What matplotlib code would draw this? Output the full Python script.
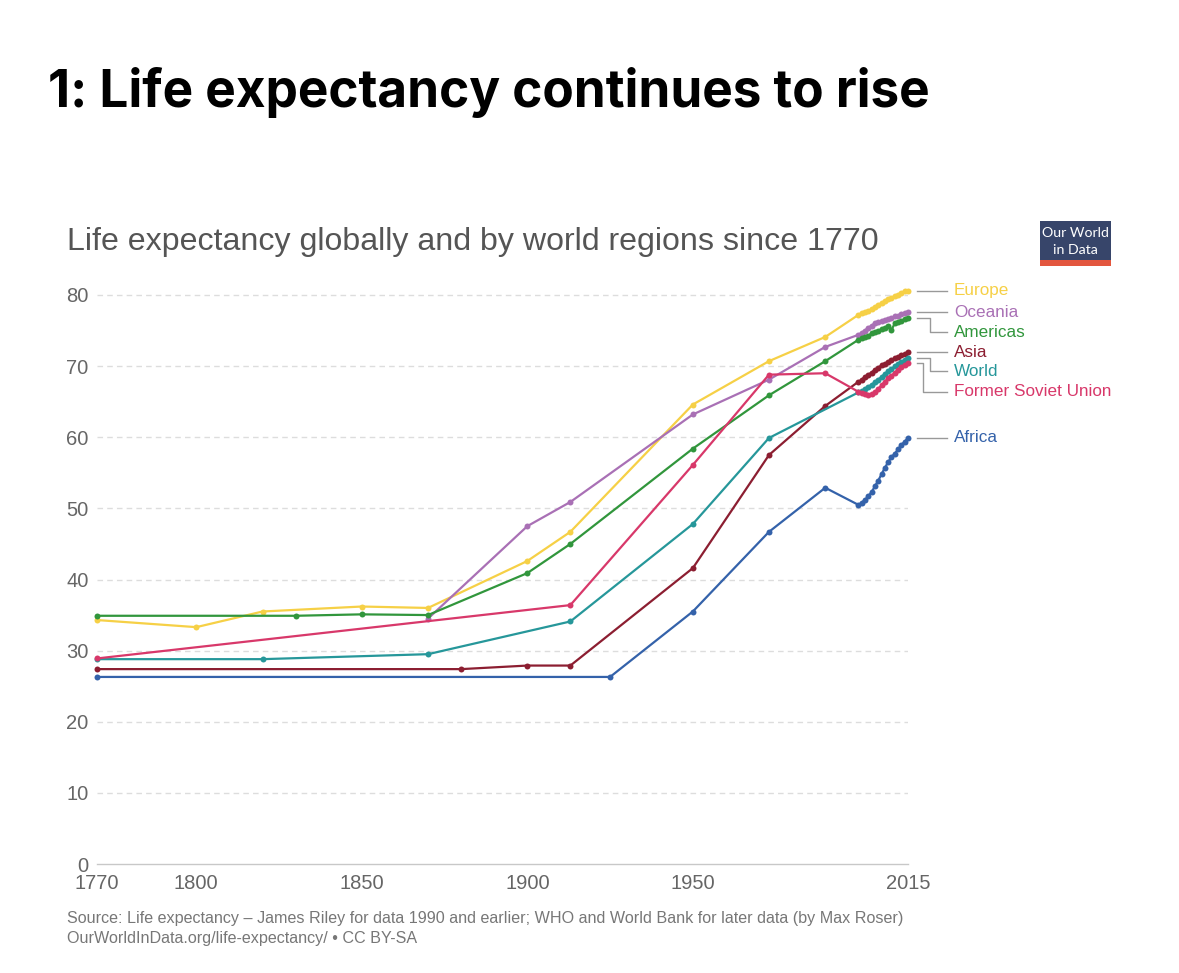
import matplotlib
matplotlib.use('Agg')
import matplotlib.pyplot as plt
from matplotlib.patches import Rectangle

# ---------------- data ----------------
dense_years = list(range(2000, 2016))

europe_years = [1770, 1800, 1820, 1850, 1870, 1900, 1913, 1950, 1973, 1990] + dense_years
europe_vals = [34.3, 33.3, 35.5, 36.2, 36.0, 42.6, 46.7, 64.6, 70.7, 74.1,
               77.2, 77.5, 77.6, 77.7, 78.1, 78.3, 78.6, 78.9, 79.1, 79.4,
               79.6, 79.9, 80.0, 80.3, 80.6, 80.6]

oceania_years = [1870, 1900, 1913, 1950, 1973, 1990] + dense_years
oceania_vals = [34.5, 47.5, 50.9, 63.2, 68.1, 72.7,
                74.4, 74.7, 75.0, 75.4, 75.7, 76.0, 76.2, 76.3, 76.5, 76.6,
                76.8, 77.0, 77.1, 77.3, 77.4, 77.6]

americas_years = [1770, 1830, 1850, 1870, 1900, 1913, 1950, 1973, 1990] + dense_years
americas_vals = [34.9, 34.9, 35.1, 35.0, 40.9, 45.0, 58.4, 65.9, 70.7,
                 73.7, 73.9, 74.1, 74.3, 74.6, 74.8, 75.0, 75.2, 75.4, 75.7,
                 75.1, 76.0, 76.2, 76.4, 76.6, 76.8]

asia_years = [1770, 1880, 1900, 1913, 1950, 1973, 1990] + dense_years
asia_vals = [27.4, 27.4, 27.9, 27.9, 41.6, 57.5, 64.4,
             67.8, 68.1, 68.5, 68.8, 69.1, 69.5, 69.8, 70.1, 70.3, 70.6,
             70.9, 71.1, 71.3, 71.5, 71.7, 72.0]

world_years = [1770, 1820, 1870, 1913, 1950, 1973] + dense_years
world_vals = [28.8, 28.8, 29.5, 34.1, 47.8, 59.9,
              66.3, 66.5, 66.8, 67.1, 67.4, 67.7, 68.1, 68.5, 68.9, 69.3,
              69.6, 70.0, 70.3, 70.6, 70.9, 71.2]

fsu_years = [1770, 1913, 1950, 1973, 1990] + dense_years
fsu_vals = [28.9, 36.4, 56.1, 68.8, 69.0,
            66.4, 66.2, 66.1, 66.0, 66.1, 66.3, 66.8, 67.3, 67.8, 68.3,
            68.6, 69.1, 69.5, 69.9, 70.2, 70.4]

africa_years = [1770, 1925, 1950, 1973, 1990] + dense_years
africa_vals = [26.3, 26.3, 35.5, 46.7, 52.9,
               50.5, 50.8, 51.2, 51.7, 52.3, 53.1, 53.9, 54.8, 55.7, 56.5,
               57.2, 57.7, 58.3, 58.9, 59.4, 59.9]

series_names = ['Europe', 'Oceania', 'Americas', 'Asia', 'World',
                'Former Soviet Union', 'Africa']
series_years = [europe_years, oceania_years, americas_years, asia_years,
                world_years, fsu_years, africa_years]
series_vals = [europe_vals, oceania_vals, americas_vals, asia_vals,
               world_vals, fsu_vals, africa_vals]

x_ticks = [1770, 1800, 1850, 1900, 1950, 2015]
y_ticks = [0, 10, 20, 30, 40, 50, 60, 70, 80]

# ---------------- styles / layout ----------------
colors = ['#F6D046', '#A970B5', '#31963C', '#8C1E31', '#26979A',
          '#D8386A', '#3462AA']
# label vertical placement (value units) and elbow x (pixels) for connectors
label_y = [80.6, 77.5, 74.75, 71.9, 69.3, 66.4, 59.9]
elbow_px = [None, None, 930, None, 930, 923.3, None]

W, H = 1179, 973
FONT = 'Liberation Sans'
plt.rcParams['font.family'] = [FONT, 'DejaVu Sans']

fig = plt.figure(figsize=(W / 100, H / 100), dpi=100)


def fx(px):
    return px / W


def fy(py):
    return 1 - py / H


X0_PX, X1_PX = 97, 908
Y0_PX, Y80_PX = 864, 295
YMAX = 82
ppu = (Y0_PX - Y80_PX) / 80.0
top_px = Y0_PX - YMAX * ppu
ax = fig.add_axes([fx(X0_PX), fy(Y0_PX), (X1_PX - X0_PX) / W, (Y0_PX - top_px) / H])
ax.set_xlim(1770, 2015)
ax.set_ylim(0, YMAX)


def year_of(px):
    return 1770 + (px - X0_PX) * (2015 - 1770) / (X1_PX - X0_PX)


for s in ax.spines.values():
    s.set_visible(False)
for t in y_ticks:
    if t == 0:
        ax.axhline(0, color='#c8c8c8', lw=1.0, zorder=1, clip_on=False)
    else:
        ax.axhline(t, color='#dddddd', lw=1.0, ls=(0, (4, 3)), zorder=1)
ax.set_yticks(y_ticks)
ax.set_xticks(x_ticks)
ax.tick_params(axis='y', length=0, pad=6, labelsize=14.5, labelcolor='#666666')
ax.tick_params(axis='x', length=0, pad=7, labelsize=14.5, labelcolor='#666666')

for name, yrs, vals, c in zip(series_names, series_years, series_vals, colors):
    ax.plot(yrs, vals, color=c, lw=1.6, marker='o', ms=4.3, mew=0,
            clip_on=False, zorder=3)

# labels with connectors
xs_px, xe_px, xt_px = 916.7, 946.7, 954
for name, vals, c, ly, el in zip(series_names, series_vals, colors, label_y, elbow_px):
    yend = vals[-1]
    if el is None:
        ax.plot([year_of(xs_px), year_of(xe_px)], [yend, yend], color='#999999',
                lw=1.0, clip_on=False)
    else:
        ax.plot([year_of(xs_px), year_of(el), year_of(el), year_of(xe_px)],
                [yend, yend, ly, ly], color='#999999', lw=1.0, clip_on=False)
    ax.text(year_of(xt_px), ly, name, color=c, fontsize=12.3, va='center',
            ha='left', clip_on=False)

# ---------------- texts ----------------
title = fig.text(fx(48), fy(107), '1: Life expectancy continues to rise',
                 fontsize=37, fontweight='bold', family=['Inter', 'DejaVu Sans'],
                 color='black', va='baseline', ha='left')
subtitle = fig.text(fx(67), fy(250), 'Life expectancy globally and by world regions since 1770',
                    fontsize=21, color='#555555', va='baseline', ha='left')
foot1 = fig.text(fx(67), fy(923),
                 'Source: Life expectancy \u2013 James Riley for data 1990 and earlier; '
                 'WHO and World Bank for later data (by Max Roser)',
                 fontsize=10.5, color='#777777', va='baseline', ha='left')
foot2 = fig.text(fx(67), fy(943), 'OurWorldInData.org/life-expectancy/ \u2022 CC BY-SA',
                 fontsize=10.5, color='#777777', va='baseline', ha='left')

# logo
lx0, lx1, ly0, ly1 = 1040, 1111, 221, 266
fig.add_artist(Rectangle((fx(lx0), fy(ly1)), (lx1 - lx0) / W, (ly1 - ly0) / H,
                         transform=fig.transFigure, facecolor='#37456A',
                         edgecolor='none'))
fig.add_artist(Rectangle((fx(lx0), fy(ly1)), (lx1 - lx0) / W, (ly1 - 260) / H,
                         transform=fig.transFigure, facecolor='#E3563E',
                         edgecolor='none'))
logo1 = fig.text(fx(1075.5), fy(233), 'Our World', color='white', fontsize=10.5,
                 family=['Lato', 'DejaVu Sans'], ha='center', va='center')
logo2 = fig.text(fx(1075.5), fy(249.5), 'in Data', color='white', fontsize=10.5,
                 family=['Lato', 'DejaVu Sans'], ha='center', va='center')

fig.canvas.draw()
r = fig.canvas.get_renderer()


def fit(t, target):
    for _ in range(3):
        w = t.get_window_extent(renderer=r).width
        t.set_fontsize(t.get_fontsize() * target / w)


fit(title, 930 - 48)
fit(subtitle, 877 - 67)
fit(foot1, 898 - 67)
foot2.set_fontsize(foot1.get_fontsize())
fit(logo1, 67)
logo2.set_fontsize(logo1.get_fontsize())

fig.savefig('out.png', dpi=100, facecolor='white')
